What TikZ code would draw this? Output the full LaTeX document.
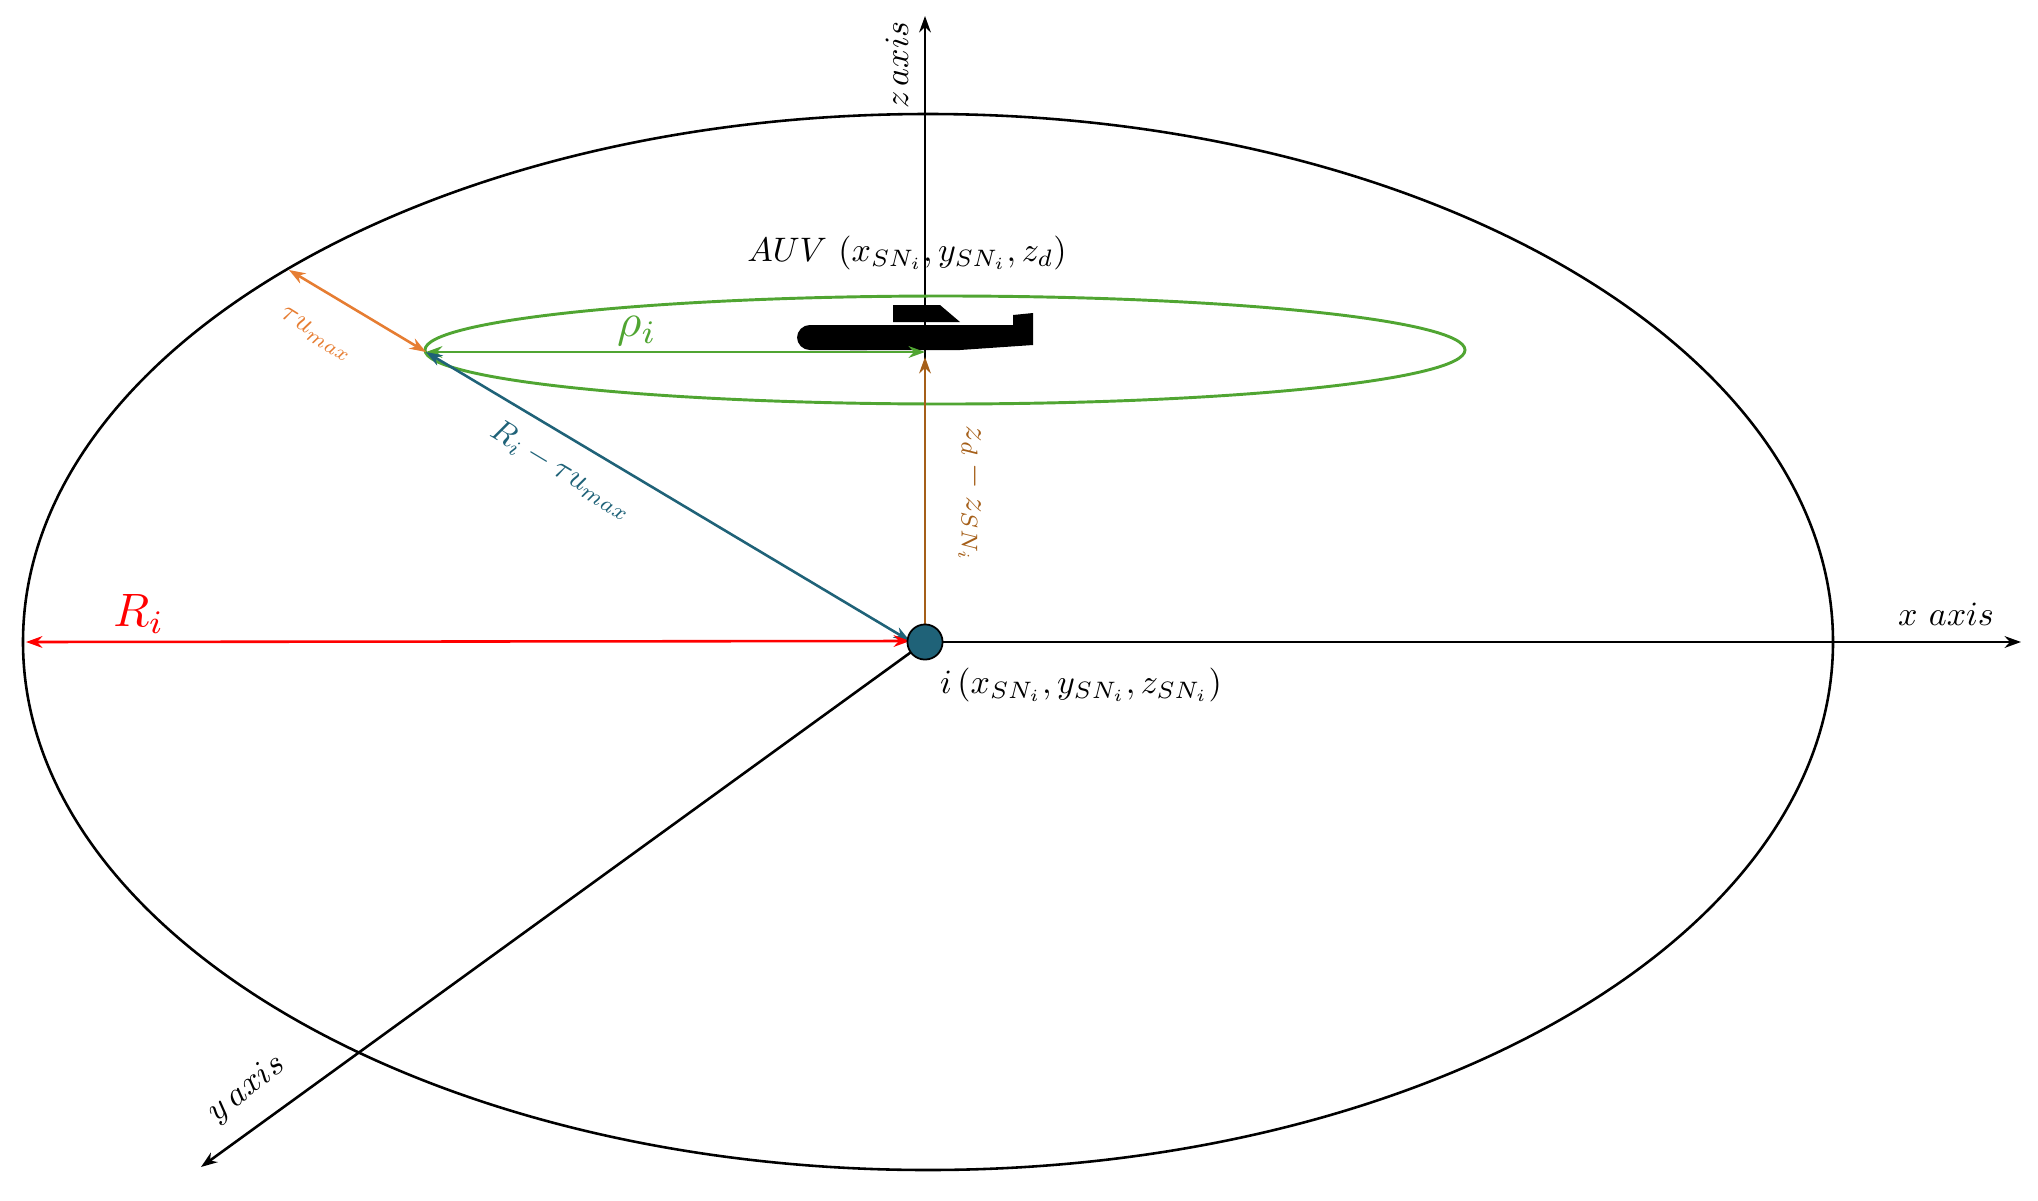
\documentclass[tikz,border=0pt]{standalone}
\usepackage{graphicx}
\usetikzlibrary{arrows.meta}
\definecolor{gr}{RGB}{80,165,50}
\definecolor{tl}{RGB}{31,98,120}
\definecolor{org}{RGB}{230,125,50}
\definecolor{brn}{RGB}{165,95,25}
\newcommand{\myscl}[2]{\scalebox{#1}{$#2$}}
\begin{document}
\begin{tikzpicture}[x=0.03cm,y=-0.03cm,
  ar/.style={line width=2.2pt,{Stealth[length=14pt,width=10pt]}-{Stealth[length=14pt,width=10pt]}},
  ax/.style={line width=2.2pt,-{Stealth[length=14pt,width=10pt]}},
  lbl/.style={inner sep=0pt}]
\useasboundingbox (0,0) rectangle (2038,1201);
\coordinate (O) at (925,642);
\coordinate (zt) at (925,16);
\coordinate (xt) at (2021,642);
\coordinate (yt) at (201,1167);
\coordinate (L) at (426,352);
\coordinate (A) at (925,352);
\coordinate (B) at (925,357);
\coordinate (T) at (289,270);
\coordinate (Rl) at (26,642);
\coordinate (Oe) at (910,641);
\draw[line width=2.2pt] (928,642) ellipse [x radius=905,y radius=528];
\draw[ax] (O) -- (zt);
\draw[ax] (O) -- (xt);
\draw[ax] (O) -- (yt);
\draw[gr,line width=2.5pt] (945,350) ellipse [x radius=520,y radius=54];
% submarine
\fill (893,322) -- (893,305) -- (940,305) -- (960,322) -- cycle;
\fill[rounded corners=11pt] (797,325) rectangle (880,350);
\fill (850,325) -- (1013,325) -- (1013,315) -- (1033,313) -- (1033,345) -- (960,350) -- (850,350) -- cycle;
\draw[gr,ar] (L) -- (A);
\draw[brn,ar] (O) -- (B);
\draw[tl,ar] (L) -- (Oe);
\draw[org,ar] (T) -- (L);
\draw[red,ar] (Rl) -- (Oe);
\node[circle,fill=tl,draw=black,line width=1.5pt,minimum size=30pt,inner sep=0] (i) at (O) {};
\node[lbl,red] at (139,614) {\myscl{4}{R_i}};
\node[lbl,gr] at (637,331) {\myscl{4}{\rho_i}};
\node[lbl,org,rotate=-32] at (316,335) {\myscl{2.5}{\tau u_{max}}};
\node[lbl,tl,rotate=-31] at (562,470) {\myscl{2.7}{R_i-\tau u_{max}}};
\node[lbl,brn,rotate=-90] at (972,494) {\myscl{2.8}{z_d - z_{SN_i}}};
\node[lbl] at (907,253) {\myscl{2.9}{AUV\ (x_{SN_i}, y_{SN_i}, z_d)}};
\node[lbl] at (1081,685) {\myscl{2.9}{i\,(x_{SN_i}, y_{SN_i}, z_{SN_i})}};
\node[lbl] at (1946,614) {\myscl{2.9}{x\ axis}};
\node[lbl,rotate=90] at (897,65) {\myscl{2.9}{z\,axis}};
\node[lbl,rotate=38] at (247,1089) {\myscl{2.9}{y\,axis}};
\end{tikzpicture}
\end{document}
